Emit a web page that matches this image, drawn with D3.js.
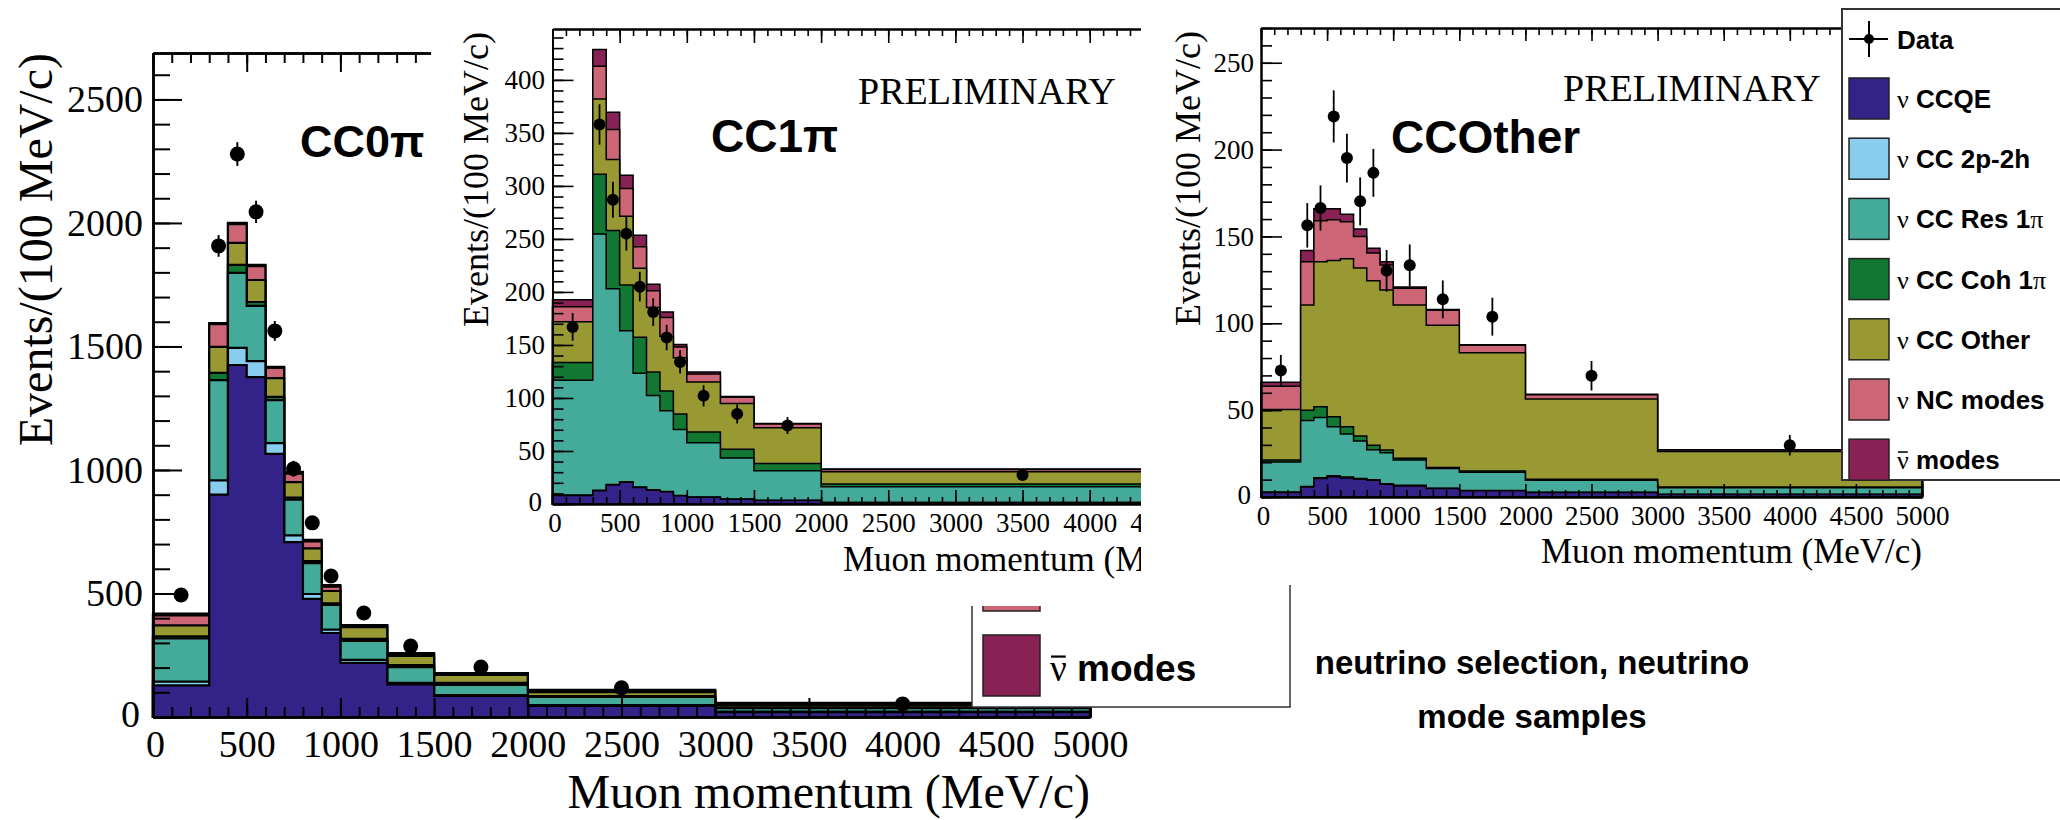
<!DOCTYPE html>
<html>
<head>
<meta charset="utf-8">
<script src="https://cdn.jsdelivr.net/npm/d3@7"></script>
<style>
  body { margin: 0; background: #fff; }
  svg { display: block; }
</style>
</head>
<body>
<svg id="chart" width="2060" height="820"></svg>
<script>
var SERIF = '"Liberation Serif", "Times New Roman", serif';
var SANS = '"Liberation Sans", Arial, sans-serif';

// bin edges in MeV/c
var edgesStd = [0, 300, 400, 500, 600, 700, 800, 900, 1000, 1250, 1500, 2000, 3000, 5000];
var edgesCC1pi = [0, 300, 400, 500, 600, 700, 800, 900, 1000, 1250, 1500, 2000, 5000];
var xTickValues = d3.range(0, 5001, 500);

// stack order, bottom to top
var modeLabels = ["ν CCQE", "ν CC 2p-2h", "ν CC Res 1π", "ν CC Coh 1π", "ν CC Other", "ν NC modes", "ν\u0304 modes"];
var modeColors = ["#332288", "#88ccee", "#44aa99", "#117733", "#999933", "#cc6677", "#882255"];

// CC0pi sample
var cc0piCCQE  = [128, 900, 1425, 1376, 1065, 708, 478, 340, 219, 132, 85, 45, 20];
var cc0pi2p2h  = [15, 58, 69, 65, 44, 27, 20, 14, 12, 6, 4, 3, 2];
var cc0piRes   = [175, 406, 304, 223, 174, 145, 125, 100, 77, 64, 41, 33, 14];
var cc0piCoh   = [8, 29, 32, 16, 13, 8, 8, 6, 8, 8, 8, 4, 3];
var cc0piOther = [45, 105, 89, 89, 76, 63, 52, 50, 48, 37, 32, 16, 9];
var cc0piNC    = [40, 92, 76, 56, 41, 34, 28, 18, 6, 8, 5, 6, 6];
var cc0piNubar = [8, 5, 5, 5, 4, 7, 6, 6, 2, 4, 3, 3, 3];
var cc0piData  = [494, 1907, 2279, 2045, 1563, 1005, 786, 571, 421, 287, 202, 118, 53];
var cc0piErr   = [13, 44, 48, 45, 40, 32, 28, 24, 13, 11, 6, 3, 2];

// CC1pi sample
var cc1piCCQE  = [8, 12.5, 18, 20.6, 15.6, 13, 11.6, 7.8, 6.3, 4.4, 3.4, 1.4];
var cc1pi2p2h  = [0.4, 0.5, 0.5, 0.5, 0.4, 0.4, 0.3, 0.3, 0.3, 0.2, 0.2, 0.1];
var cc1piRes   = [108.2, 241.6, 184.5, 142.2, 107.4, 89, 76, 62.2, 51.2, 38.7, 27.8, 14.7];
var cc1piCoh   = [16.9, 56.4, 55, 43.3, 33.8, 22, 18.6, 14.6, 10.2, 8.4, 6.8, 2.7];
var cc1piOther = [38.5, 71, 67, 64.9, 65.2, 60.9, 51.7, 53.1, 47, 43, 33.8, 11.5];
var cc1piNC    = [14, 30.8, 28.3, 26, 20.3, 15.9, 17.8, 10, 7.7, 6, 3.5, 2.2];
var cc1piNubar = [6.7, 15.9, 16.2, 12.5, 10.8, 6, 5.2, 2.4, 1.7, 0.7, 0.5, 0.5];
var cc1piData  = [167, 358, 287, 255, 205, 181, 157, 134, 102, 85, 74, 27.4];
var cc1piErr   = [13, 19, 17, 16, 14, 13, 12, 11, 10, 9, 8, 3];

// CCOther sample
var ccothCCQE  = [2.6, 5.7, 10.6, 11.7, 11, 10.2, 9.6, 7.4, 6.4, 4.9, 3.6, 2.6, 1.5];
var ccoth2p2h  = [0.3, 0.4, 0.5, 0.5, 0.5, 0.4, 0.4, 0.3, 0.3, 0.2, 0.2, 0.1, 0.1];
var ccothRes   = [17.3, 37.9, 34.6, 28.2, 24.7, 21.7, 17.2, 17.8, 14.6, 11.3, 10.5, 6.9, 3.7];
var ccothCoh   = [1.1, 6, 6.3, 5.8, 4.2, 2.8, 2.6, 1.5, 1, 0.6, 0.6, 0.6, 0.4];
var ccothOther = [29.1, 60.6, 83.5, 90, 96.8, 96.8, 94.7, 92.1, 88.3, 81.9, 68.1, 46.2, 20.5];
var ccothNC    = [13.4, 24.9, 23.5, 23.4, 21.3, 18.1, 15.9, 14.5, 9.6, 8.6, 4.3, 2.4, 0.8];
var ccothNubar = [2.2, 6.4, 7, 6.4, 4.3, 4.3, 2.8, 1.9, 0.7, 0.4, 0.4, 0.3, 0.2];
var ccothData  = [72.8, 156.4, 166.4, 219.1, 195.1, 170.2, 186.6, 130.2, 133.4, 113.8, 103.8, 69.8, 29.8];
var ccothErr   = [9, 12.8, 13, 15, 14, 13.8, 13.8, 12, 12, 10.9, 10.9, 8.5, 5.9];

var yTitle = "Events/(100 MeV/c)";
var xTitle = "Muon momentum (MeV/c)";
var captionLines = ["neutrino selection, neutrino", "mode samples"];

var svg = d3.select("#chart");

// label with greek letters in serif and the rest in bold sans, like the ROOT legends
function richLabel(sel, x, y, label, size) {
    var bar = label.indexOf("\u0304") >= 0;
    var clean = label.replace("\u0304", "");
    var t = sel.append("text").attr("x", x).attr("y", y).attr("font-size", size);
    clean.match(/[νπ]+|[^νπ]+/g).forEach(function(r) {
        var greek = /[νπ]/.test(r);
        t.append("tspan")
            .attr("font-family", greek ? SERIF : SANS)
            .attr("font-weight", greek ? "normal" : "bold")
            .text(r);
    });
    if (bar) {
        var w = t.select("tspan").node().getComputedTextLength();
        sel.append("line")
            .attr("x1", x + 1).attr("x2", x + w - 1)
            .attr("y1", y - size * 0.66).attr("y2", y - size * 0.66)
            .attr("stroke", "#000").attr("stroke-width", Math.max(1.5, size * 0.06));
    }
}

function styleAxis(a, o, size) {
    a.attr("font-family", SERIF).attr("font-size", size);
    a.select(".domain").attr("stroke", "#000").attr("stroke-width", o.frameW);
    a.selectAll(".tick line").attr("stroke", "#000").attr("stroke-width", o.tickW);
    a.selectAll(".tick text").attr("fill", "#000");
}

function drawPanel(g, o) {
    var x = d3.scaleLinear().domain([0, 5000]).range(o.xRange);
    var y = d3.scaleLinear().domain([0, o.yMax]).range(o.yRange);
    var n = o.edges.length - 1;

    // cumulative stack
    var cum = o.stack.map(function() { return []; });
    for (var i = 0; i < n; i++) {
        var s = 0;
        o.stack.forEach(function(arr, k) { s += arr[i]; cum[k][i] = s; });
    }

    var area = d3.area()
        .curve(d3.curveStepAfter)
        .x(function(d) { return x(d.e); })
        .y0(y(0))
        .y1(function(d) { return y(d.v); });

    for (var k = o.stack.length - 1; k >= 0; k--) {
        var pts = o.edges.map(function(e, i) {
            return { e: e, v: cum[k][Math.min(i, n - 1)] };
        });
        g.append("path")
            .attr("d", area(pts))
            .attr("fill", modeColors[k])
            .attr("stroke", "#000")
            .attr("stroke-width", o.histW);
    }

    // axes: ticks inside the frame on all four sides
    var yMaj = d3.range(0, o.yMax + 0.1, o.yStep);
    var yMin = d3.range(0, o.yMax + 0.1, o.yStep / 5);
    var xMin = d3.range(0, 5001, 100);

    var b = g.append("g").attr("transform", "translate(0," + y(0) + ")")
        .call(d3.axisBottom(x).tickValues(xMin).tickFormat("").tickSizeInner(-o.xMinor).tickSizeOuter(0));
    styleAxis(b, o, o.labelSize);
    b = g.append("g").attr("transform", "translate(0," + y(0) + ")")
        .call(d3.axisBottom(x).tickValues(xTickValues).tickFormat(d3.format("d"))
            .tickSizeInner(-o.xMajor).tickSizeOuter(0).tickPadding(o.xPad));
    styleAxis(b, o, o.labelSize);
    b.selectAll(".tick text").filter(function(d) { return d === 0; }).attr("dx", 2);

    var t = g.append("g").attr("transform", "translate(0," + o.yRange[1] + ")")
        .call(d3.axisTop(x).tickValues(xMin).tickFormat("").tickSizeInner(-o.xMinor).tickSizeOuter(0));
    styleAxis(t, o, o.labelSize);
    t = g.append("g").attr("transform", "translate(0," + o.yRange[1] + ")")
        .call(d3.axisTop(x).tickValues(xTickValues).tickFormat("").tickSizeInner(-o.xMajor).tickSizeOuter(0));
    styleAxis(t, o, o.labelSize);

    var l = g.append("g").attr("transform", "translate(" + o.xRange[0] + ",0)")
        .call(d3.axisLeft(y).tickValues(yMin).tickFormat("").tickSizeInner(-o.yMinor).tickSizeOuter(0));
    styleAxis(l, o, o.labelSize);
    l = g.append("g").attr("transform", "translate(" + o.xRange[0] + ",0)")
        .call(d3.axisLeft(y).tickValues(yMaj).tickFormat(d3.format("d"))
            .tickSizeInner(-o.yMajor).tickSizeOuter(0).tickPadding(o.yPad));
    styleAxis(l, o, o.labelSize);
    // keep the zero label just clear of the x-axis zero
    l.selectAll(".tick text").filter(function(d) { return d === 0; })
        .attr("dx", -3).attr("dy", "0.24em");

    var r = g.append("g").attr("transform", "translate(" + o.xRange[1] + ",0)")
        .call(d3.axisRight(y).tickValues(yMin).tickFormat("").tickSizeInner(-o.yMinor).tickSizeOuter(0));
    styleAxis(r, o, o.labelSize);
    r = g.append("g").attr("transform", "translate(" + o.xRange[1] + ",0)")
        .call(d3.axisRight(y).tickValues(yMaj).tickFormat("").tickSizeInner(-o.yMajor).tickSizeOuter(0));
    styleAxis(r, o, o.labelSize);

    // data points with error bars
    var centers = d3.range(n).map(function(i) { return (o.edges[i] + o.edges[i + 1]) / 2; });
    var pts = g.append("g");
    pts.selectAll("line").data(o.data).enter().append("line")
        .attr("x1", function(d, i) { return x(centers[i]); })
        .attr("x2", function(d, i) { return x(centers[i]); })
        .attr("y1", function(d, i) { return y(d - o.err[i]); })
        .attr("y2", function(d, i) { return y(d + o.err[i]); })
        .attr("stroke", "#000").attr("stroke-width", o.errW);
    pts.selectAll("circle").data(o.data).enter().append("circle")
        .attr("cx", function(d, i) { return x(centers[i]); })
        .attr("cy", function(d) { return y(d); })
        .attr("r", o.dotR).attr("fill", "#000");

    // titles
    g.append("text")
        .attr("x", o.xRange[1]).attr("y", o.xTitleY)
        .attr("text-anchor", "end")
        .attr("font-family", SERIF).attr("font-size", o.titleSize)
        .text(xTitle);
    g.append("text")
        .attr("transform", "translate(" + o.yTitleX + "," + (o.yRange[1] + o.yTitleShift) + ") rotate(-90)")
        .attr("text-anchor", "end")
        .attr("font-family", SERIF).attr("font-size", o.yTitleSize)
        .text(yTitle);

    if (o.prelim) {
        g.append("text")
            .attr("x", o.prelim[0]).attr("y", o.prelim[1])
            .attr("font-family", SERIF).attr("font-size", 38)
            .text("PRELIMINARY");
    }
    g.append("text")
        .attr("x", o.tag[0]).attr("y", o.tag[1])
        .attr("font-family", SANS).attr("font-weight", "bold").attr("font-size", o.tagSize)
        .text(o.tagText);
}

// ---------- CC0pi (big panel) ----------
var g0 = svg.append("g");
drawPanel(g0, {
    edges: edgesStd,
    stack: [cc0piCCQE, cc0pi2p2h, cc0piRes, cc0piCoh, cc0piOther, cc0piNC, cc0piNubar],
    data: cc0piData, err: cc0piErr,
    xRange: [153, 1090], yRange: [717, 53], yMax: 2688, yStep: 500,
    xMajor: 19, xMinor: 10, yMajor: 29, yMinor: 17,
    xPad: 13, yPad: 10, labelSize: 38,
    frameW: 2.5, tickW: 2, histW: 2.2, errW: 2, dotR: 7.5,
    titleSize: 48, yTitleSize: 48, yTitleShift: 0, xTitleY: 808, yTitleX: 52,
    tag: [300, 157], tagSize: 45, tagText: "CC0π"
});

// legend of the big panel, mostly hidden under the two insets
var leg0 = svg.append("g");
leg0.append("rect").attr("x", 972).attr("y", 10).attr("width", 318).attr("height", 697)
    .attr("fill", "#fff").attr("stroke", "#333").attr("stroke-width", 1.5);
modeLabels.forEach(function(lab, i) {
    var top = 635 - (modeLabels.length - 1 - i) * 85;
    leg0.append("rect").attr("x", 983).attr("y", top).attr("width", 57).attr("height", 61)
        .attr("fill", modeColors[i]).attr("stroke", "#222").attr("stroke-width", 1.5);
    if (top + 46 > 606) richLabel(leg0, 1050, top + 46, lab, 37);
});

// ---------- CC1pi inset ----------
svg.append("clipPath").attr("id", "clip1")
    .append("rect").attr("x", 431).attr("y", 0).attr("width", 710).attr("height", 606);
var g1 = svg.append("g").attr("clip-path", "url(#clip1)");
g1.append("rect").attr("x", 431).attr("y", 0).attr("width", 710).attr("height", 606).attr("fill", "#fff");
drawPanel(g1, {
    edges: edgesCC1pi,
    stack: [cc1piCCQE, cc1pi2p2h, cc1piRes, cc1piCoh, cc1piOther, cc1piNC, cc1piNubar],
    data: cc1piData, err: cc1piErr,
    xRange: [552.5, 1224], yRange: [504, 29], yMax: 448, yStep: 50,
    xMajor: 14, xMinor: 7, yMajor: 21, yMinor: 11,
    xPad: 8.5, yPad: 7.5, labelSize: 27,
    frameW: 2, tickW: 1.6, histW: 1.5, errW: 1.8, dotR: 6,
    titleSize: 35, yTitleSize: 36, yTitleShift: 3, xTitleY: 571, yTitleX: 488,
    prelim: [858, 104],
    tag: [711, 152], tagSize: 46, tagText: "CC1π"
});

// ---------- CCOther inset ----------
var g2 = svg.append("g");
g2.append("rect").attr("x", 1141).attr("y", 0).attr("width", 919).attr("height", 585).attr("fill", "#fff");
drawPanel(g2, {
    edges: edgesStd,
    stack: [ccothCCQE, ccoth2p2h, ccothRes, ccothCoh, ccothOther, ccothNC, ccothNubar],
    data: ccothData, err: ccothErr,
    xRange: [1261, 1922], yRange: [497, 28], yMax: 270, yStep: 50,
    xMajor: 13, xMinor: 7, yMajor: 21, yMinor: 11,
    xPad: 9, yPad: 7, labelSize: 27,
    frameW: 2, tickW: 1.6, histW: 1.5, errW: 1.8, dotR: 6,
    titleSize: 35, yTitleSize: 36, yTitleShift: 3, xTitleY: 563, yTitleX: 1200,
    prelim: [1563, 101],
    tag: [1391, 153], tagSize: 46, tagText: "CCOther"
});

// legend of the CCOther inset
var leg = svg.append("g");
leg.append("rect").attr("x", 1842).attr("y", 9).attr("width", 230).attr("height", 471)
    .attr("fill", "#fff").attr("stroke", "#333").attr("stroke-width", 2);
leg.append("line").attr("x1", 1849).attr("x2", 1888).attr("y1", 39).attr("y2", 39)
    .attr("stroke", "#000").attr("stroke-width", 2);
leg.append("line").attr("x1", 1869).attr("x2", 1869).attr("y1", 21).attr("y2", 57)
    .attr("stroke", "#000").attr("stroke-width", 2);
leg.append("circle").attr("cx", 1869).attr("cy", 39).attr("r", 5).attr("fill", "#000");
leg.append("text").attr("x", 1897).attr("y", 49)
    .attr("font-family", SANS).attr("font-weight", "bold").attr("font-size", 26)
    .text("Data");
modeLabels.forEach(function(lab, i) {
    var top = 78 + i * 60.2;
    leg.append("rect").attr("x", 1849).attr("y", top).attr("width", 40).attr("height", 41)
        .attr("fill", modeColors[i]).attr("stroke", "#222").attr("stroke-width", 1.5);
    richLabel(leg, 1897, top + 30, lab, 26);
});

// caption
svg.append("text")
    .attr("x", 1532).attr("text-anchor", "middle")
    .attr("font-family", SANS).attr("font-weight", "bold").attr("font-size", 33)
    .selectAll("tspan").data(captionLines).enter().append("tspan")
    .attr("x", 1532)
    .attr("y", function(d, i) { return 674 + i * 54; })
    .text(function(d) { return d; });
</script>
</body>
</html>
